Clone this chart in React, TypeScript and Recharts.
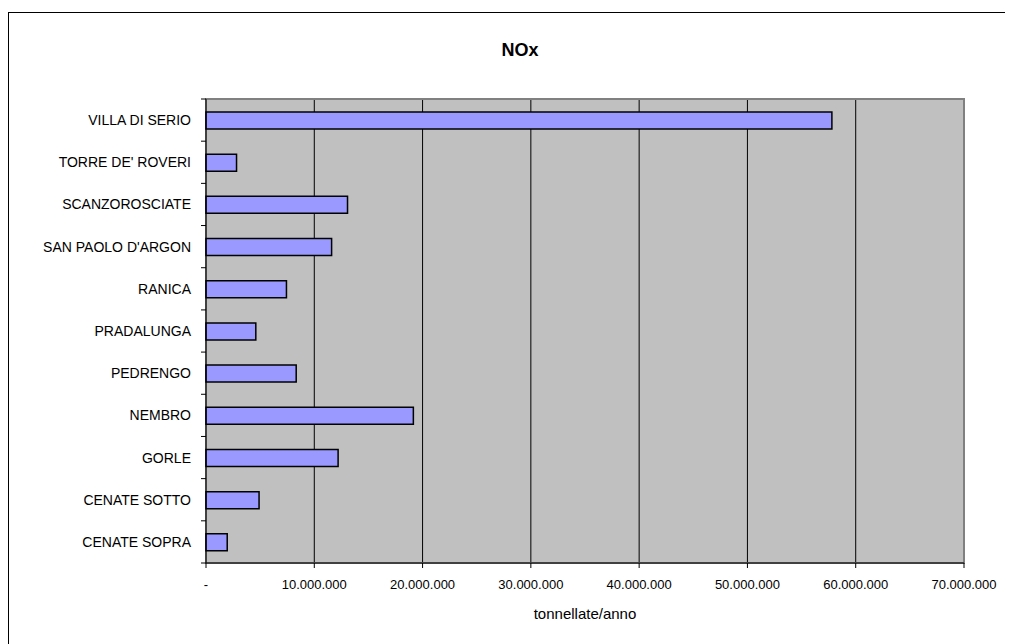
import { Bar, BarChart, CartesianGrid, ReferenceArea, XAxis, YAxis } from "recharts";

const comuni = [
  "CENATE SOPRA",
  "CENATE SOTTO",
  "GORLE",
  "NEMBRO",
  "PEDRENGO",
  "PRADALUNGA",
  "RANICA",
  "SAN PAOLO D'ARGON",
  "SCANZOROSCIATE",
  "TORRE DE' ROVERI",
  "VILLA DI SERIO",
];

const nox = [
  1960000, 4900000, 12200000, 19150000, 8330000, 4600000, 7430000, 11600000,
  13070000, 2820000, 57800000,
];

const xTicks = [0, 10000000, 20000000, 30000000, 40000000, 50000000, 60000000, 70000000];

const data = comuni.map((name, i) => ({ name, value: nox[i] }));

const W = 996;
const H = 631;
const PLOT_TOP = 86;
const PLOT_BOTTOM = 550;
const BAND = (PLOT_BOTTOM - PLOT_TOP) / comuni.length;
const FONT = "'Liberation Sans', Arial, sans-serif";

function fmt(v: number) {
  if (v === 0) return "-";
  return String(v).replace(/\B(?=(\d{3})+(?!\d))/g, ".");
}

function CatTick(props: any) {
  const { x, y, payload, index } = props;
  const axisX = x + 15;
  return (
    <g>
      <text x={x} y={y} dy={5} textAnchor="end" fontSize={14} fill="#000" fontFamily={FONT}>
        {payload.value}
      </text>
      <line x1={axisX - 5} x2={axisX} y1={y - BAND / 2} y2={y - BAND / 2} stroke="#000" />
      {index === 0 && (
        <line x1={axisX - 5} x2={axisX} y1={y + BAND / 2} y2={y + BAND / 2} stroke="#000" />
      )}
    </g>
  );
}

export default function App() {
  return (
    <div
      style={{
        position: "relative",
        marginTop: 4,
        width: W,
        height: H,
        borderLeft: "1px solid #000",
        borderTop: "1px solid #000",
        fontFamily: FONT,
      }}
    >
      <div
        style={{
          position: "absolute",
          left: 511 - 100,
          top: 27,
          width: 200,
          textAlign: "center",
          fontSize: 18,
          fontWeight: "bold",
        }}
      >
        NOx
      </div>
      <BarChart
        width={W}
        height={H}
        data={data}
        layout="vertical"
        margin={{ top: PLOT_TOP, right: 41, left: 7, bottom: 51 }}
        barCategoryGap="30%"
      >
        <CartesianGrid horizontal={false} stroke="#000" fill="#C0C0C0" />
        <ReferenceArea x1={0} x2={70000000} stroke="#808080" strokeWidth={2} fill="none" ifOverflow="visible" />
        <XAxis
          type="number"
          domain={[0, 70000000]}
          ticks={xTicks}
          tickFormatter={fmt}
          interval={0}
          stroke="#000"
          tickSize={5}
          tickMargin={12}
          height={30}
          tick={{ fill: "#000", fontSize: 13, fontFamily: FONT }}
        />
        <YAxis
          type="category"
          dataKey="name"
          reversed
          width={190}
          stroke="#000"
          tickLine={false}
          tickSize={5}
          tickMargin={10}
          interval={0}
          tick={<CatTick />}
        />
        <Bar
          dataKey="value"
          fill="#9999FF"
          stroke="#000"
          strokeWidth={1.5}
          barSize={17}
          isAnimationActive={false}
        />
      </BarChart>
      <div
        style={{
          position: "absolute",
          left: 576 - 150,
          top: 592,
          width: 300,
          textAlign: "center",
          fontSize: 15,
        }}
      >
        tonnellate/anno
      </div>
    </div>
  );
}
